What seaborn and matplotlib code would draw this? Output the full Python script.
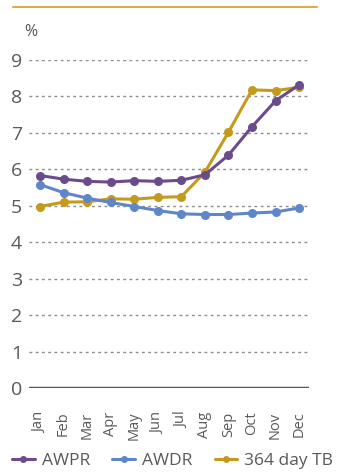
import matplotlib
matplotlib.use("Agg")
import matplotlib.pyplot as plt
from matplotlib.lines import Line2D
import seaborn as sns
import pandas as pd

months = ["Jan", "Feb", "Mar", "Apr", "May", "Jun", "Jul", "Aug", "Sep", "Oct", "Nov", "Dec"]
awpr = [5.83, 5.73, 5.67, 5.65, 5.69, 5.67, 5.70, 5.85, 6.39, 7.17, 7.88, 8.32]
awdr = [5.58, 5.36, 5.21, 5.09, 4.98, 4.87, 4.78, 4.76, 4.76, 4.80, 4.83, 4.94]
tb364 = [4.98, 5.10, 5.11, 5.19, 5.18, 5.23, 5.25, 5.92, 7.02, 8.18, 8.16, 8.25]
series_names = ["AWPR", "AWDR", "364 day TB"]
colors = ["#6b4c8a", "#5f86c8", "#c49a1c"]
y_ticks = [0, 1, 2, 3, 4, 5, 6, 7, 8, 9]

sns.set_style("white")
plt.rcParams["font.family"] = ["Open Sans", "DejaVu Sans"]

df = pd.DataFrame({
    "month": list(range(12)) * 3,
    "rate": awpr + awdr + tb364,
    "series": [s for s in series_names for _ in months],
})
palette = dict(zip(series_names, colors))

fig = plt.figure(figsize=(3.46, 4.73), dpi=100)
ax = fig.add_axes([29 / 346, 1 - 388 / 473, 280 / 346, 328 / 473])

# dotted grid behind the data
for y in y_ticks[1:]:
    ax.axhline(y, color="#8c8c8c", lw=1.0, ls=(0, (2, 2.5)), zorder=0)
ax.axhline(0, color="#595959", lw=2.5, zorder=1)

# draw the TB series first so the rate series sit on top of it
for name in reversed(series_names):
    sns.lineplot(data=df[df["series"] == name], x="month", y="rate",
                 color=palette[name], marker="o", markersize=6.5, markeredgewidth=0,
                 linewidth=2.2, ax=ax, legend=False)

ax.set_xlim(-0.47, 11.42)
ax.set_ylim(0, 9)
ax.set_yticks(y_ticks)
ax.set_yticklabels([str(v) for v in y_ticks], fontsize=14, color="#595959")
ax.set_xticks(range(12))
ax.set_xticklabels(months, rotation=90, fontsize=10.5, color="#595959")
ax.tick_params(axis="y", length=0, pad=5)
ax.tick_params(axis="x", length=0, pad=17)
ax.set_xlabel("")
ax.set_ylabel("")
for s in ax.spines.values():
    s.set_visible(False)

fig.text(24 / 346, 1 - 32 / 473, "%", fontsize=11.5, color="#595959", va="center", ha="left")

# thin rule across the top
fig.add_artist(Line2D([13 / 346, 317 / 346], [1 - 7 / 473, 1 - 7 / 473],
                      color="#d4b04a", lw=1.5, transform=fig.transFigure))

handles = [Line2D([0], [0], color=c, lw=2.2, marker="o", markersize=5, markeredgewidth=0)
           for c in colors]
leg = fig.legend(handles, series_names, loc="center left",
                 bbox_to_anchor=(12 / 346, 1 - 461 / 473),
                 ncol=3, frameon=False, fontsize=12.5, handlelength=1.3, handletextpad=0.4,
                 columnspacing=1.3, labelcolor="#595959", borderpad=0, borderaxespad=0)

fig.savefig("out.png", dpi=100)
